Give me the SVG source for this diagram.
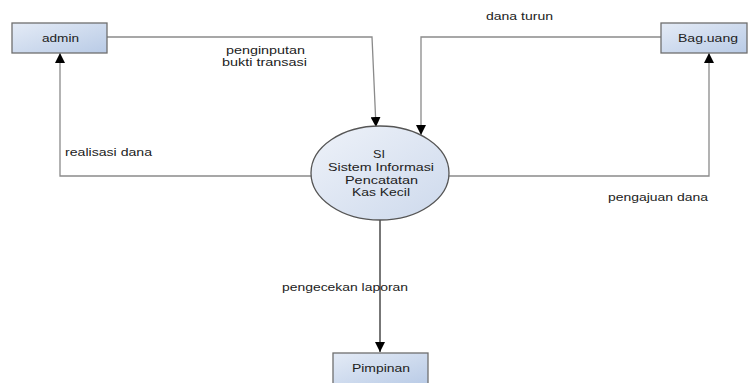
<svg xmlns="http://www.w3.org/2000/svg" width="748" height="383" viewBox="0 0 748 383">
<style>
.box{stroke:#6f6f6f;stroke-width:1.3;fill:url(#bg)}
.t{font-family:"Liberation Sans",Arial,sans-serif;font-size:11.5px;fill:#222}
.ln{fill:none;stroke:#8a8a8a;stroke-width:1.3}
.dk{fill:none;stroke:#555;stroke-width:1.6}
</style>
<defs>
<linearGradient id="bg" x1="0" y1="0" x2="1" y2="1">
<stop offset="0" stop-color="#e4ebf6"/>
<stop offset="1" stop-color="#b9cbe6"/>
</linearGradient>
<linearGradient id="eg" x1="0" y1="0" x2="1" y2="1">
<stop offset="0" stop-color="#eef2f9"/>
<stop offset="1" stop-color="#cdd9ec"/>
</linearGradient>
<marker id="ar" viewBox="0 0 10 10" refX="10" refY="5" markerWidth="10" markerHeight="10" markerUnits="userSpaceOnUse" orient="auto">
<path d="M0,0 L10,5 L0,10 Z" fill="#000"/>
</marker>
</defs>
<g id="connectors">
<polyline class="ln" points="107,37 372,37 376,127" marker-end="url(#ar)"/>
<polyline class="ln" points="661,37 421,37 421,135" marker-end="url(#ar)"/>
<polyline class="ln" points="311,176 60,176 60,53" marker-end="url(#ar)"/>
<polyline class="ln" points="449,176 709,176 709,53" marker-end="url(#ar)"/>
<line class="dk" x1="380" y1="220" x2="380" y2="352" marker-end="url(#ar)"/>
<text class="t" x="226" y="54" textLength="79" lengthAdjust="spacingAndGlyphs">penginputan</text>
<text class="t" x="222" y="66" textLength="85" lengthAdjust="spacingAndGlyphs">bukti transasi</text>
<text class="t" x="486" y="20" textLength="67" lengthAdjust="spacingAndGlyphs">dana turun</text>
<text class="t" x="65" y="156" textLength="87" lengthAdjust="spacingAndGlyphs">realisasi dana</text>
<text class="t" x="608" y="201" textLength="100" lengthAdjust="spacingAndGlyphs">pengajuan dana</text>
<text class="t" x="282" y="291" textLength="126" lengthAdjust="spacingAndGlyphs">pengecekan laporan</text>
</g>
<g id="admin">
<rect class="box" x="12" y="23" width="95" height="30"/>
<text class="t" x="42" y="42" textLength="37" lengthAdjust="spacingAndGlyphs">admin</text>
</g>
<g id="baguang">
<rect class="box" x="661" y="23" width="86" height="30"/>
<text class="t" x="678" y="42" textLength="60" lengthAdjust="spacingAndGlyphs">Bag.uang</text>
</g>
<g id="pimpinan">
<rect class="box" x="333" y="353" width="95" height="32"/>
<text class="t" x="352" y="372" textLength="58" lengthAdjust="spacingAndGlyphs">Pimpinan</text>
</g>
<g id="sistem">
<ellipse cx="380" cy="173" rx="69" ry="47" fill="url(#eg)" stroke="#555" stroke-width="1.3"/>
<text class="t" x="373" y="158" textLength="12" lengthAdjust="spacingAndGlyphs">SI</text>
<text class="t" x="328" y="171" textLength="106" lengthAdjust="spacingAndGlyphs">Sistem Informasi</text>
<text class="t" x="345" y="184" textLength="73" lengthAdjust="spacingAndGlyphs">Pencatatan</text>
<text class="t" x="352" y="196" textLength="58" lengthAdjust="spacingAndGlyphs">Kas Kecil</text>
</g>
</svg>
